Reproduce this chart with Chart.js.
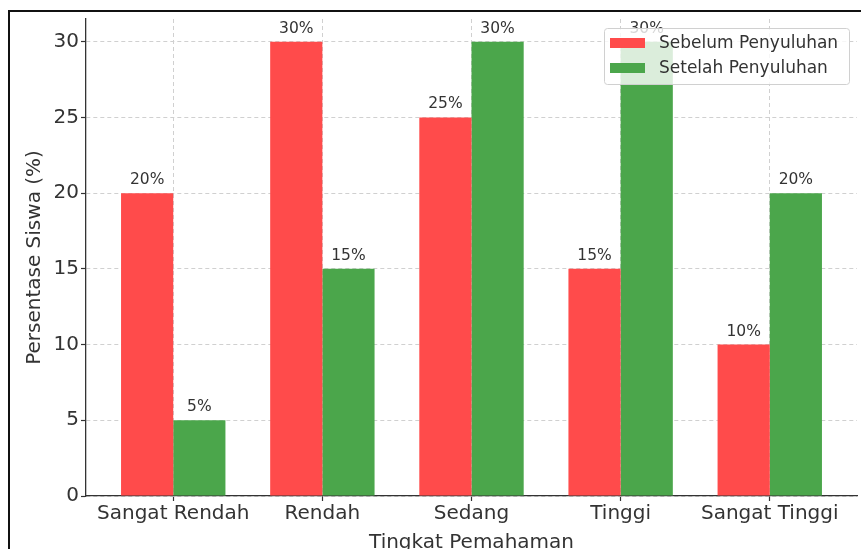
<!DOCTYPE html>
<html>
<head>
<meta charset="utf-8">
<script src="https://cdn.jsdelivr.net/npm/chart.js@4.4.1/dist/chart.umd.min.js"></script>
<style>
  body { margin: 0; background: #fff; }
  #wrap { position: relative; width: 861px; height: 549px; overflow: hidden; }
  #frame { position: absolute; left: 8px; top: 10px; right: -4px; bottom: -4px;
           border-left: 2px solid #111; border-top: 2px solid #111; pointer-events: none; }
</style>
</head>
<body>
<div id="wrap">
  <canvas id="chart" width="861" height="549"></canvas>
  <div id="frame"></div>
</div>
<script>
// Chart data
const categories = ['Sangat Rendah', 'Rendah', 'Sedang', 'Tinggi', 'Sangat Tinggi'];
const sebelum = [20, 30, 25, 15, 10];
const setelah = [5, 15, 30, 30, 20];
const yTicks = [0, 5, 10, 15, 20, 25, 30];

const seriesNames = ['Sebelum Penyuluhan', 'Setelah Penyuluhan'];
const seriesColors = ['#ff4b4b', '#4ba64b'];

const fontFamily = '"DejaVu Sans", sans-serif';
const textColor = '#333';

// Value labels above each bar
const barLabels = {
    id: 'barLabels',
    afterDatasetsDraw(chart) {
        const ctx = chart.ctx;
        ctx.save();
        ctx.font = '15.5px ' + fontFamily;
        ctx.fillStyle = textColor;
        ctx.textAlign = 'center';
        ctx.textBaseline = 'alphabetic';
        chart.data.datasets.forEach((ds, i) => {
            chart.getDatasetMeta(i).data.forEach((bar, j) => {
                ctx.fillText(ds.data[j].y + '%', bar.x, bar.y - 9);
            });
        });
        ctx.restore();
    }
};

// Matplotlib-style legend drawn inside the plot, upper right
const boxLegend = {
    id: 'boxLegend',
    afterDraw(chart) {
        const ctx = chart.ctx;
        const area = chart.chartArea;
        const x = area.right - 253, y = 28, w = 245, h = 56;
        ctx.save();
        ctx.fillStyle = 'rgba(255,255,255,0.8)';
        ctx.strokeStyle = '#d0d0d0';
        ctx.lineWidth = 1;
        ctx.beginPath();
        ctx.roundRect(x + 0.5, y + 0.5, w, h, 3);
        ctx.fill();
        ctx.stroke();
        ctx.font = '17px ' + fontFamily;
        ctx.textBaseline = 'middle';
        chart.data.datasets.forEach((ds, i) => {
            const cy = y + 15 + i * 25;
            ctx.fillStyle = ds.backgroundColor;
            ctx.fillRect(x + 6, cy - 5, 35, 10);
            ctx.fillStyle = textColor;
            ctx.fillText(ds.label, x + 55, cy + 1);
        });
        ctx.restore();
    }
};

const dashGrid = {
    color: '#d0d0d0',
    lineWidth: 1,
    offset: false,
    tickColor: '#333',
    tickBorderDash: [],
    tickLength: 5,
    tickWidth: 1.2
};
const axisBorder = { display: true, color: '#333', width: 1.3, dash: [4, 3] };

new Chart(document.getElementById('chart'), {
    type: 'bar',
    data: {
        datasets: [0, 1].map(i => ({
            label: seriesNames[i],
            data: (i === 0 ? sebelum : setelah).map((v, j) => ({ x: j, y: v })),
            backgroundColor: seriesColors[i],
            borderWidth: 0,
            categoryPercentage: 0.7,
            barPercentage: 1.0
        }))
    },
    options: {
        responsive: false,
        animation: false,
        layout: { padding: { left: 18, top: 19, right: 4, bottom: 0 } },
        plugins: {
            legend: { display: false },
            tooltip: { enabled: false }
        },
        scales: {
            x: {
                type: 'linear',
                min: -0.585,
                max: 4.585,
                offset: false,
                afterBuildTicks: s => { s.ticks = categories.map((c, i) => ({ value: i })); },
                afterFit: s => { s.height = 53; s.paddingLeft = 0; s.paddingRight = 0; },
                ticks: {
                    callback: v => categories[v],
                    color: textColor,
                    font: { family: fontFamily, size: 20 },
                    padding: 1,
                    maxRotation: 0,
                    autoSkip: false
                },
                grid: dashGrid,
                border: axisBorder,
                title: {
                    display: true,
                    text: 'Tingkat Pemahaman',
                    color: textColor,
                    font: { family: fontFamily, size: 20, lineHeight: 1 },
                    padding: { top: 0, bottom: -4 }
                }
            },
            y: {
                min: 0,
                max: 31.5,
                afterBuildTicks: s => { s.ticks = yTicks.map(v => ({ value: v })); },
                afterFit: s => { s.width = 68; },
                ticks: {
                    color: textColor,
                    font: { family: fontFamily, size: 20 },
                    padding: 2
                },
                grid: dashGrid,
                border: axisBorder,
                title: {
                    display: true,
                    text: 'Persentase Siswa (%)',
                    color: textColor,
                    font: { family: fontFamily, size: 20, lineHeight: 1.2 },
                    padding: { top: 5, bottom: 0 }
                }
            }
        }
    },
    plugins: [barLabels, boxLegend]
});
</script>
</body>
</html>
